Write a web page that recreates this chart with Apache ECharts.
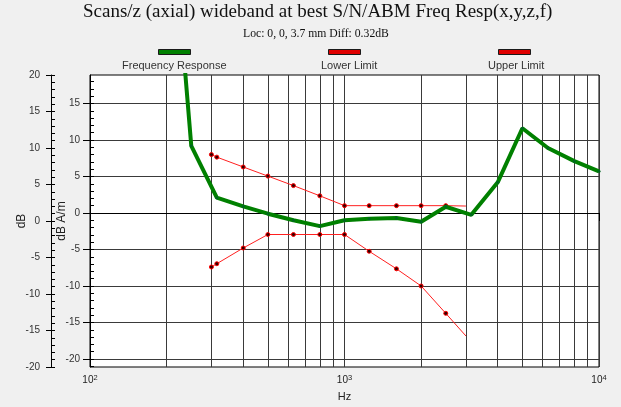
<!DOCTYPE html>
<html>
<head>
<meta charset="utf-8">
<script src="https://cdn.jsdelivr.net/npm/echarts@6/dist/echarts.min.js"></script>
<style>html,body{margin:0;padding:0;background:#f0f0f0;}#c{width:621px;height:407px;}</style>
</head>
<body>
<div id="c"></div>
<script>
// ---- data ----
var titleText = 'Scans/z (axial) wideband at best S/N/ABM Freq Resp(x,y,z,f)';
var subtitleText = 'Loc: 0, 0, 3.7 mm Diff: 0.32dB';
var legendNames = ['Frequency Response', 'Lower Limit', 'Upper Limit'];

var respFreq = [200, 250, 315, 400, 500, 630, 800, 1000, 1250, 1600, 2000, 2500, 3150, 4000, 5000, 6300, 8000, 10000];
var respVal  = [50, 9.2, 2.1, 0.9, -0.1, -1.0, -1.8, -1.0, -0.8, -0.7, -1.2, 0.85, -0.25, 4.2, 11.6, 8.9, 7.1, 5.7];

var limitFreq = [300, 315, 400, 500, 630, 800, 1000, 1250, 1600, 2000, 2500, 3000];
var upperVal  = [8.0, 7.65, 6.3, 5.05, 3.75, 2.35, 1.0, 1.0, 1.0, 1.0, 1.0, 0.95];
var lowerVal  = [-7.4, -6.95, -4.8, -2.95, -2.95, -2.95, -2.95, -5.25, -7.65, -10.0, -13.75, -16.85];

var decadeTicks = [100, 1000, 10000];
var gridFreqs = [200,300,400,500,600,700,800,900,2000,3000,4000,5000,6000,7000,8000,9000];
var innerMajor = [-20, -15, -10, -5, 0, 5, 10, 15];
var innerMinor = [];
for (var i = -21; i <= 18; i++) innerMinor.push(i);
var outerMinor = [];
for (var j = -20; j <= 20; j++) outerMinor.push(j);

function pairs(xs, ys, noSymbolLast) {
  return xs.map(function (x, k) {
    var item = {value: [x, ys[k]]};
    if (noSymbolLast && k === xs.length - 1) item.symbol = 'none';
    return item;
  });
}

var chart = echarts.init(document.getElementById('c'), null, {renderer: 'canvas'});
var sans = 'Liberation Sans, Arial, sans-serif';
var serif = 'Liberation Serif, Times New Roman, serif';
var gridColor = '#3a3a3a';
var yMin = -21.1, yMax = 18.9;

var option = {
  backgroundColor: '#f0f0f0',
  animation: false,
  title: [
    {text: titleText, left: 83, top: 3, padding: 0,
     textStyle: {fontFamily: serif, fontSize: 19, fontWeight: 'normal', color: '#111'}},
    {text: subtitleText, left: 243, top: 28, padding: 0,
     textStyle: {fontFamily: serif, fontSize: 11.7, fontWeight: 'normal', color: '#111'}}
  ],
  legend: [
    {left: 158, top: 49, padding: 0, itemWidth: 32, itemHeight: 5, formatter: function () { return ''; },
     data: [{name: legendNames[0], icon: 'rect', itemStyle: {color: '#008000', borderColor: '#1a1a1a', borderWidth: 1}}]},
    {left: 328, top: 49, padding: 0, itemWidth: 32, itemHeight: 5, formatter: function () { return ''; },
     data: [{name: legendNames[1], icon: 'rect', itemStyle: {color: '#e00000', borderColor: '#1a1a1a', borderWidth: 1}}]},
    {left: 498, top: 49, padding: 0, itemWidth: 32, itemHeight: 5, formatter: function () { return ''; },
     data: [{name: legendNames[2], icon: 'rect', itemStyle: {color: '#e00000', borderColor: '#1a1a1a', borderWidth: 1}}]}
  ],
  graphic: [
    {type: 'text', left: 174 - 52, top: 60, style: {text: legendNames[0], font: '11px ' + sans, fill: '#333'}},
    {type: 'text', left: 344 - 23, top: 60, style: {text: legendNames[1], font: '11px ' + sans, fill: '#333'}},
    {type: 'text', left: 514 - 26, top: 60, style: {text: legendNames[2], font: '11px ' + sans, fill: '#333'}}
  ],
  grid: {left: 90, right: 22, top: 75, bottom: 35, show: true, backgroundColor: '#ffffff', borderColor: '#000', borderWidth: 1, containLabel: false},
  xAxis: [
    {type: 'log', logBase: 10, min: 100, max: 10000, position: 'bottom',
     name: 'Hz', nameLocation: 'middle', nameGap: 24,
     nameTextStyle: {fontFamily: sans, fontSize: 11, color: '#222'},
     axisLine: {lineStyle: {color: '#000', width: 1}},
     axisTick: {show: true, length: 8, lineStyle: {color: '#000'}},
     axisLabel: {fontFamily: sans, fontSize: 10, color: '#222', margin: 7,
       formatter: function (v) { var e = Math.round(Math.log10(v)); return '{b|10}{s|' + e + '}'; },
       rich: {b: {fontFamily: sans, fontSize: 10, color: '#222'},
              s: {fontFamily: sans, fontSize: 7.5, color: '#222', padding: [0, 0, 5, 0]}}},
     splitLine: {show: true, lineStyle: {color: gridColor, width: 1}}},
    {type: 'value', min: 2, max: 4, position: 'bottom', show: true,
     axisLine: {show: false}, axisLabel: {show: false},
     axisTick: {show: false, customValues: gridFreqs.map(function (f) { return Math.log10(f); })},
     splitLine: {show: true, lineStyle: {color: gridColor, width: 1}}}
  ],
  yAxis: [
    {type: 'value', min: yMin, max: yMax, position: 'left',
     name: 'dB A/m', nameLocation: 'middle', nameRotate: 90, nameGap: 22, nameMoveOverlap: false,
     nameTextStyle: {fontFamily: sans, fontSize: 12, color: '#222'},
     axisLine: {show: true, lineStyle: {color: '#000'}},
     axisTick: {show: true, length: 7, customValues: innerMajor, lineStyle: {color: '#000'}},
     axisLabel: {fontFamily: sans, fontSize: 10, color: '#333', margin: 10, customValues: innerMajor},
     splitLine: {show: true, lineStyle: {color: gridColor, width: 1}}},
    {type: 'value', min: yMin, max: yMax, position: 'left',
     axisLine: {show: false}, axisLabel: {show: false},
     axisTick: {show: true, inside: true, length: 4, customValues: innerMinor, lineStyle: {color: '#000'}},
     splitLine: {show: false}},
    {type: 'value', min: -20, max: 20, interval: 5, position: 'left', offset: 39,
     name: 'dB', nameLocation: 'middle', nameRotate: 90, nameGap: 23, nameMoveOverlap: false,
     nameTextStyle: {fontFamily: sans, fontSize: 12, color: '#222'},
     axisLine: {show: true, lineStyle: {color: '#000'}},
     axisTick: {show: true, length: 5, lineStyle: {color: '#000'}},
     axisLabel: {fontFamily: sans, fontSize: 10, color: '#333', margin: 11},
     splitLine: {show: false}},
    {type: 'value', min: -20, max: 20, position: 'left', offset: 39,
     axisLine: {show: false}, axisLabel: {show: false},
     axisTick: {show: true, inside: true, length: 4, customValues: outerMinor, lineStyle: {color: '#000'}},
     splitLine: {show: false}}
  ],
  series: [
    {name: legendNames[0], type: 'line', xAxisIndex: 0, yAxisIndex: 0, clip: true,
     data: pairs(respFreq, respVal, false),
     lineStyle: {color: '#008000', width: 4}, symbol: 'circle', symbolSize: 3,
     itemStyle: {color: '#062', borderWidth: 0}, z: 4},
    {name: legendNames[1], type: 'line', xAxisIndex: 0, yAxisIndex: 0, clip: true,
     data: pairs(limitFreq, lowerVal, true),
     lineStyle: {color: '#ff2020', width: 1}, symbol: 'circle', symbolSize: 4,
     itemStyle: {color: '#300', borderColor: '#ff0000', borderWidth: 1}, z: 3},
    {name: legendNames[2], type: 'line', xAxisIndex: 0, yAxisIndex: 0, clip: true,
     data: pairs(limitFreq, upperVal, true),
     lineStyle: {color: '#ff2020', width: 1}, symbol: 'circle', symbolSize: 4,
     itemStyle: {color: '#300', borderColor: '#ff0000', borderWidth: 1}, z: 3}
  ]
};
chart.setOption(option);
</script>
</body>
</html>
